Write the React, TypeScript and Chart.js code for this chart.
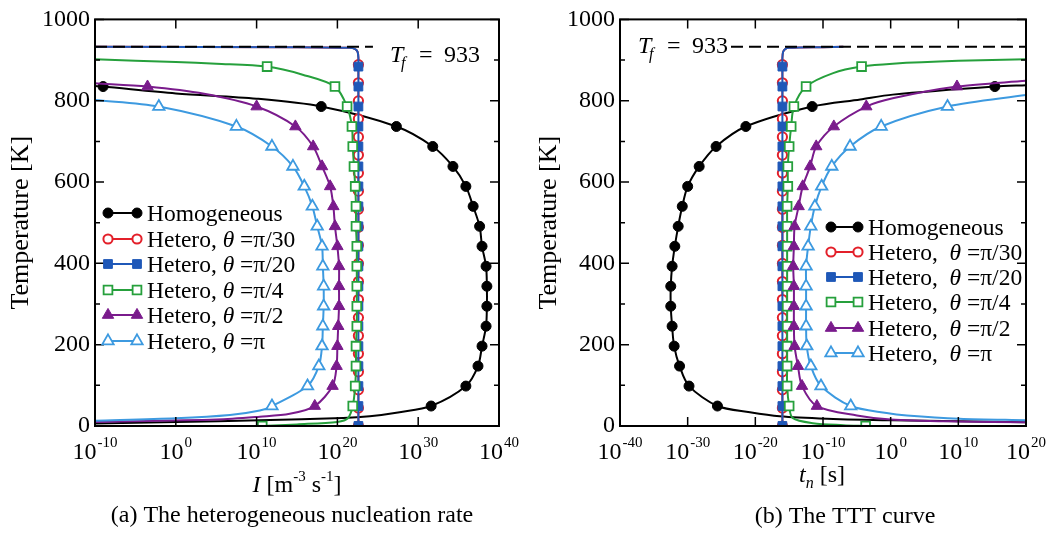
import React, { useEffect, useRef } from "react";
import { Chart, registerables } from "chart.js";

Chart.register(...registerables);

const FONT = "'Liberation Serif', 'Times New Roman', serif";

// Temperatures (K) at which markers are placed
const markerT = [0, 49.1, 98.2, 147.3, 196.4, 245.5, 294.6, 343.7, 392.8, 441.9, 491.1, 540.2, 589.3, 638.4, 687.5, 736.6, 785.7, 834.8, 883.9];
const markerTRed = [0, 44.4, 88.9, 133.3, 177.7, 222.1, 266.6, 311.0, 355.4, 399.9, 444.3, 488.7, 533.1, 577.6, 622.0, 666.4, 710.9, 755.3, 799.7, 844.1, 888.6];

// Panel (a): log10 of nucleation rate I at the marker temperatures
const rateHomogeneous = [null, 31.6, 35.9, 37.4, 37.9, 38.4, 38.5, 38.5, 38.4, 37.9, 37.6, 36.8, 35.9, 34.3, 31.8, 27.3, 18.0, -9.0, null];
const rateTheta30 = [22.6, 22.6, 22.6, 22.6, 22.6, 22.6, 22.6, 22.6, 22.6, 22.6, 22.6, 22.6, 22.6, 22.6, 22.6, 22.6, 22.6, 22.6, 22.6, 22.6, 22.6];
const rateTheta20 = [22.6, 22.6, 22.6, 22.6, 22.6, 22.6, 22.6, 22.6, 22.6, 22.6, 22.6, 22.6, 22.6, 22.6, 22.6, 22.6, 22.6, 22.6, 22.6];
const rateTheta4 = [10.7, 21.9, 22.2, 22.3, 22.3, 22.4, 22.4, 22.4, 22.4, 22.4, 22.3, 22.3, 22.2, 22.05, 21.9, 21.8, 21.2, 19.7, 11.3];
const rateTheta2 = [null, 17.2, 19.4, 19.9, 20.0, 20.1, 20.2, 20.2, 20.2, 20.0, 19.7, 19.5, 19.1, 18.1, 17.0, 14.8, 10.0, -3.5, null];
const ratePi = [null, 11.9, 16.3, 17.7, 18.1, 18.2, 18.3, 18.3, 18.2, 18.1, 17.5, 16.9, 15.9, 14.5, 11.9, 7.5, -2.1, null, null];

// Panel (a): extra curve points without markers [log10 I, T]
const rateHomogeneousCurve = [[-10, 836], [0, 818], [10, 805], [27.7, 34], [24, 24], [20.7, 19.5], [10.4, 14], [0, 10], [-10, 6]];
const rateTheta30Curve = [[-10, 932.5], [15, 931.6], [21.5, 930], [22.2, 927], [22.5, 920], [22.6, 905]];
const rateTheta20Curve = [[-10, 932.5], [15, 931.6], [21.5, 930], [22.2, 927], [22.5, 920], [22.6, 905]];
const rateTheta4Curve = [[-10, 902], [0, 895], [5, 891], [15.7, 864], [21.3, 19], [20, 10], [15, 4]];
const rateTheta2Curve = [[-10, 843], [3.5, 817], [14.1, 30], [10.4, 23], [5.1, 16], [-10, 10]];
const ratePiCurve = [[-10, 802], [10.4, 38], [6.7, 27], [0, 19], [-10, 13]];
const rateMelting = [[-10, 933], [24.4, 933]];

// Panel (b): log10 of nucleation time t_n at the marker temperatures
const timeHomogeneous = [null, -25.6, -29.8, -31.2, -32.0, -32.3, -32.5, -32.5, -32.3, -31.9, -31.4, -30.8, -30.0, -28.3, -25.8, -21.4, -11.6, 15.4, null];
const timeTheta30 = [-16.0, -16.0, -16.0, -16.0, -16.0, -16.0, -16.0, -16.0, -16.0, -16.0, -16.0, -16.0, -16.0, -16.0, -16.0, -16.0, -16.0, -16.0, -16.0, -16.0, -16.0];
const timeTheta20 = [-16.0, -16.0, -16.0, -16.0, -16.0, -16.0, -16.0, -16.0, -16.0, -16.0, -16.0, -16.0, -16.0, -16.0, -16.0, -16.0, -16.0, -16.0, -16.0];
const timeTheta4 = [-3.7, -15.0, -15.3, -15.3, -15.3, -15.3, -15.3, -15.3, -15.3, -15.3, -15.3, -15.3, -15.2, -15.2, -15.0, -14.7, -14.3, -12.5, -4.3];
const timeTheta2 = [null, -10.9, -13.1, -13.7, -14.2, -14.3, -14.3, -14.3, -14.4, -14.3, -14.2, -13.6, -13.0, -11.9, -11.0, -8.4, -3.6, 9.8, null];
const timePi = [null, -5.9, -10.3, -11.8, -12.4, -12.5, -12.5, -12.5, -12.5, -12.2, -11.8, -11.2, -10.2, -8.7, -6.0, -1.4, 8.4, null, null];

// Panel (b): extra curve points without markers [log10 t, T]
const timeHomogeneousCurve = [[20, 838], [0.3, 815], [-4.5, 803], [-20.8, 34], [-16.4, 24], [-9.4, 18], [0.3, 14], [20, 9]];
const timeTheta30Curve = [[-7, 932.5], [-10, 931.8], [-15.0, 930], [-15.6, 927], [-15.9, 920], [-16.0, 905]];
const timeTheta20Curve = [[-7, 932.5], [-10, 931.8], [-15.0, 930], [-15.6, 927], [-15.9, 920], [-16.0, 905]];
const timeTheta4Curve = [[20, 902], [10, 898], [0.3, 891], [-8.5, 868], [-14.5, 20], [-11.5, 7], [-7, 2]];
const timeTheta2Curve = [[20, 849], [0.3, 806], [-5, 26], [0, 16], [10, 11], [20, 9]];
const timePiCurve = [[20, 814], [-0.6, 32], [2.4, 26], [10.2, 18], [20, 14]];
const timeMelting = [[-23.6, 933], [20, 933]];

// Tick labels
const rateTicks = [-10, 0, 10, 20, 30, 40];
const timeTicks = [-40, -30, -20, -10, 0, 10, 20];
const yMajor = [0, 200, 400, 600, 800, 1000];
const yMinor = [100, 300, 500, 700, 900];

const seriesNames = ["Homogeneous", "Hetero,", "Hetero,", "Hetero,", "Hetero,", "Hetero,"];
const seriesTheta = ["", "π/30", "π/20", "π/4", "π/2", "π"];

const STYLES = [
  { color: "#000000", pointStyle: "circle", radius: 5, fill: "#000000", bw: 1, order: 6 },
  { color: "#e3202a", pointStyle: "circle", radius: 4.6, fill: "#ffffff", bw: 2, order: 5 },
  { color: "#1f58b8", pointStyle: "rect", radius: 6.2, fill: "#1f58b8", bw: 1, order: 4 },
  { color: "#26a03c", pointStyle: "rect", radius: 6.2, fill: "#ffffff", bw: 1.8, order: 3 },
  { color: "#7a1b8c", pointStyle: "triangle", radius: 6.6, fill: "#7a1b8c", bw: 1, order: 2 },
  { color: "#3d9ae0", pointStyle: "triangle", radius: 6.6, fill: "#ffffff", bw: 1.8, order: 1 },
];

type Pt = { x: number; y: number; m: boolean };

function makeSeries(temps: number[], exps: (number | null)[], curve: number[][]): Pt[] {
  const pts: Pt[] = [];
  temps.forEach((t, i) => {
    const e = exps[i];
    if (e !== null && e !== undefined) pts.push({ x: Math.pow(10, e), y: t, m: true });
  });
  curve.forEach(([e, t]) => pts.push({ x: Math.pow(10, e), y: t, m: false }));
  pts.sort((a, b) => b.y - a.y);
  return pts;
}

const PANELS = [
  {
    left: 0, yWidth: 95, padRight: 29, xMin: -10, xMax: 40, ticks: rateTicks,
    marks: [rateHomogeneous, rateTheta30, rateTheta20, rateTheta4, rateTheta2, ratePi],
    curves: [rateHomogeneousCurve, rateTheta30Curve, rateTheta20Curve, rateTheta4Curve, rateTheta2Curve, ratePiCurve],
    melting: rateMelting, tfX: 390, tfY: 62,
    legend: { x0: 108, x1: 137, tx: 147, ys: [213, 239, 264, 290, 315, 341], gap: " " },
    xTitle: "rate", xTitleX: 297, xTitleY: 492,
    caption: "(a) The heterogeneous nucleation rate", capX: 292, capY: 522,
  },
  {
    left: 528, yWidth: 92, padRight: 30, xMin: -40, xMax: 20, ticks: timeTicks,
    marks: [timeHomogeneous, timeTheta30, timeTheta20, timeTheta4, timeTheta2, timePi],
    curves: [timeHomogeneousCurve, timeTheta30Curve, timeTheta20Curve, timeTheta4Curve, timeTheta2Curve, timePiCurve],
    melting: timeMelting, tfX: 110, tfY: 53,
    legend: { x0: 303, x1: 330, tx: 340, ys: [227, 252, 277, 302, 328, 353], gap: "  " },
    xTitle: "time", xTitleX: 294, xTitleY: 482,
    caption: "(b) The TTT curve", capX: 317, capY: 523,
  },
];

type Run = { t: string; f: string; dy?: number; dx?: number };

function drawRuns(ctx: CanvasRenderingContext2D, runs: Run[], x: number, y: number, center: boolean) {
  let w = 0;
  for (const r of runs) {
    ctx.font = r.f;
    w += ctx.measureText(r.t).width + (r.dx || 0);
  }
  let cx = center ? x - w / 2 : x;
  for (const r of runs) {
    ctx.font = r.f;
    cx += r.dx || 0;
    ctx.fillText(r.t, cx, y + (r.dy || 0));
    cx += ctx.measureText(r.t).width;
  }
}

function drawMarker(ctx: CanvasRenderingContext2D, s: any, x: number, y: number) {
  ctx.beginPath();
  const r = s.radius;
  if (s.pointStyle === "circle") {
    ctx.arc(x, y, r, 0, Math.PI * 2);
  } else if (s.pointStyle === "rect") {
    const h = Math.SQRT1_2 * r;
    ctx.rect(x - h, y - h, 2 * h, 2 * h);
  } else {
    let a = 0;
    ctx.moveTo(x + Math.sin(a) * r, y - Math.cos(a) * r);
    a += (2 * Math.PI) / 3;
    ctx.lineTo(x + Math.sin(a) * r, y - Math.cos(a) * r);
    a += (2 * Math.PI) / 3;
    ctx.lineTo(x + Math.sin(a) * r, y - Math.cos(a) * r);
    ctx.closePath();
  }
  ctx.fillStyle = s.fill;
  ctx.fill();
  ctx.lineWidth = s.bw;
  ctx.strokeStyle = s.color;
  ctx.stroke();
}

function decorPlugin(p: any) {
  return {
    id: "decor",
    afterDraw(chart: any) {
      const { ctx, chartArea: a, scales } = chart;
      const xs = scales.x;
      const ys = scales.y;
      ctx.save();
      // inward ticks
      ctx.strokeStyle = "#000";
      ctx.lineWidth = 1.5;
      ctx.beginPath();
      for (const e of p.ticks) {
        const px = xs.getPixelForValue(Math.pow(10, e));
        ctx.moveTo(px, a.bottom);
        ctx.lineTo(px, a.bottom - 9);
        ctx.moveTo(px, a.top);
        ctx.lineTo(px, a.top + 9);
      }
      for (const v of yMajor) {
        const py = ys.getPixelForValue(v);
        ctx.moveTo(a.left, py);
        ctx.lineTo(a.left + 9, py);
        ctx.moveTo(a.right, py);
        ctx.lineTo(a.right - 9, py);
      }
      for (const v of yMinor) {
        const py = ys.getPixelForValue(v);
        ctx.moveTo(a.left, py);
        ctx.lineTo(a.left + 5, py);
        ctx.moveTo(a.right, py);
        ctx.lineTo(a.right - 5, py);
      }
      ctx.stroke();
      // frame
      ctx.lineWidth = 2;
      ctx.strokeRect(a.left, a.top, a.right - a.left, a.bottom - a.top);

      ctx.fillStyle = "#000";
      ctx.textBaseline = "alphabetic";
      ctx.textAlign = "left";
      // x tick labels with superscript exponents
      for (const e of p.ticks) {
        const px = xs.getPixelForValue(Math.pow(10, e));
        drawRuns(ctx, [
          { t: "10", f: `24px ${FONT}` },
          { t: String(e), f: `15px ${FONT}`, dy: -12, dx: 1 },
        ], px, 459, true);
      }
      // x axis title
      if (p.xTitle === "rate") {
        drawRuns(ctx, [
          { t: "I", f: `italic 24px ${FONT}` },
          { t: " [m", f: `24px ${FONT}` },
          { t: "-3", f: `15px ${FONT}`, dy: -11 },
          { t: " s", f: `24px ${FONT}` },
          { t: "-1", f: `15px ${FONT}`, dy: -11 },
          { t: "]", f: `24px ${FONT}` },
        ], p.xTitleX, p.xTitleY, true);
      } else {
        drawRuns(ctx, [
          { t: "t", f: `italic 24px ${FONT}` },
          { t: "n", f: `italic 16px ${FONT}`, dy: 6 },
          { t: " [s]", f: `24px ${FONT}` },
        ], p.xTitleX, p.xTitleY, true);
      }
      // caption
      ctx.font = `24px ${FONT}`;
      ctx.textAlign = "center";
      ctx.fillText(p.caption, p.capX, p.capY);
      ctx.textAlign = "left";
      // melting temperature label
      ctx.font = `italic 24px ${FONT}`;
      ctx.fillText("T", p.tfX, p.tfY);
      ctx.font = `italic 16px ${FONT}`;
      ctx.fillText("f", p.tfX + 11, p.tfY + 6);
      ctx.font = `24px ${FONT}`;
      ctx.fillText("=", p.tfX + 29, p.tfY);
      ctx.fillText("933", p.tfX + 54, p.tfY);
      // legend
      const L = p.legend;
      STYLES.forEach((s, i) => {
        const y = L.ys[i];
        ctx.beginPath();
        ctx.moveTo(L.x0, y);
        ctx.lineTo(L.x1, y);
        ctx.lineWidth = 2;
        ctx.strokeStyle = s.color;
        ctx.stroke();
        drawMarker(ctx, s, L.x0, y);
        drawMarker(ctx, s, L.x1, y);
        ctx.fillStyle = "#000";
        if (seriesTheta[i] === "") {
          drawRuns(ctx, [{ t: seriesNames[i], f: `23.5px ${FONT}` }], L.tx, y + 8, false);
        } else {
          drawRuns(ctx, [
            { t: seriesNames[i] + L.gap, f: `23.5px ${FONT}` },
            { t: "θ", f: `italic 23.5px ${FONT}` },
            { t: " =" + seriesTheta[i], f: `23.5px ${FONT}` },
          ], L.tx, y + 8, false);
        }
      });
      ctx.restore();
    },
  };
}

function buildConfig(p: any): any {
  const datasets: any[] = STYLES.map((s, i) => ({
    data: makeSeries(i === 1 ? markerTRed : markerT, p.marks[i], p.curves[i]),
    showLine: true,
    tension: 0.3,
    borderColor: s.color,
    borderWidth: 2,
    pointStyle: s.pointStyle,
    pointRadius: (c: any) => (c.raw && c.raw.m ? s.radius : 0),
    pointHoverRadius: 0,
    pointBackgroundColor: s.fill,
    pointBorderColor: s.color,
    pointBorderWidth: s.bw,
    order: s.order,
  }));
  datasets.push({
    data: p.melting.map(([e, t]: number[]) => ({ x: Math.pow(10, e), y: t })),
    showLine: true,
    tension: 0,
    borderColor: "#000000",
    borderWidth: 2,
    borderDash: [12, 6],
    pointRadius: 0,
    order: 0,
  });
  return {
    type: "scatter",
    data: { datasets },
    options: {
      animation: false,
      responsive: false,
      maintainAspectRatio: false,
      events: [],
      layout: { padding: { left: 0, top: 16, right: p.padRight, bottom: 0 } },
      plugins: { legend: { display: false }, tooltip: { enabled: false } },
      scales: {
        x: {
          type: "logarithmic",
          min: Math.pow(10, p.xMin),
          max: Math.pow(10, p.xMax),
          afterBuildTicks: (sc: any) => {
            sc.ticks = p.ticks.map((e: number) => ({ value: Math.pow(10, e) }));
          },
          afterFit: (sc: any) => {
            sc.height = 110;
          },
          ticks: { display: false },
          grid: { display: false, drawTicks: false },
          border: { display: false },
        },
        y: {
          type: "linear",
          min: 0,
          max: 1000,
          afterBuildTicks: (sc: any) => {
            sc.ticks = yMajor.map((v) => ({ value: v }));
          },
          afterFit: (sc: any) => {
            sc.width = p.yWidth;
          },
          ticks: {
            font: { family: FONT, size: 24 },
            color: "#000",
            padding: 5,
            callback: (v: any) => String(v),
          },
          grid: { display: false, drawTicks: false },
          border: { display: false },
          title: {
            display: true,
            text: "Temperature [K]",
            color: "#000",
            font: { family: FONT, size: 26 },
            padding: { top: 6, bottom: 0 },
          },
        },
      },
    },
    plugins: [decorPlugin(p)],
  };
}

function Panel({ p }: { p: any }) {
  const ref = useRef<HTMLCanvasElement | null>(null);
  useEffect(() => {
    if (!ref.current) return;
    const chart = new Chart(ref.current, buildConfig(p));
    return () => chart.destroy();
  }, []);
  return (
    <canvas
      ref={ref}
      width={528}
      height={536}
      style={{ position: "absolute", left: p.left, top: 0, width: 528, height: 536 }}
    />
  );
}

export default function App() {
  return (
    <div style={{ position: "absolute", left: 0, top: 0, width: 1056, height: 536, background: "#ffffff", overflow: "hidden" }}>
      {PANELS.map((p, i) => (
        <Panel key={i} p={p} />
      ))}
    </div>
  );
}
